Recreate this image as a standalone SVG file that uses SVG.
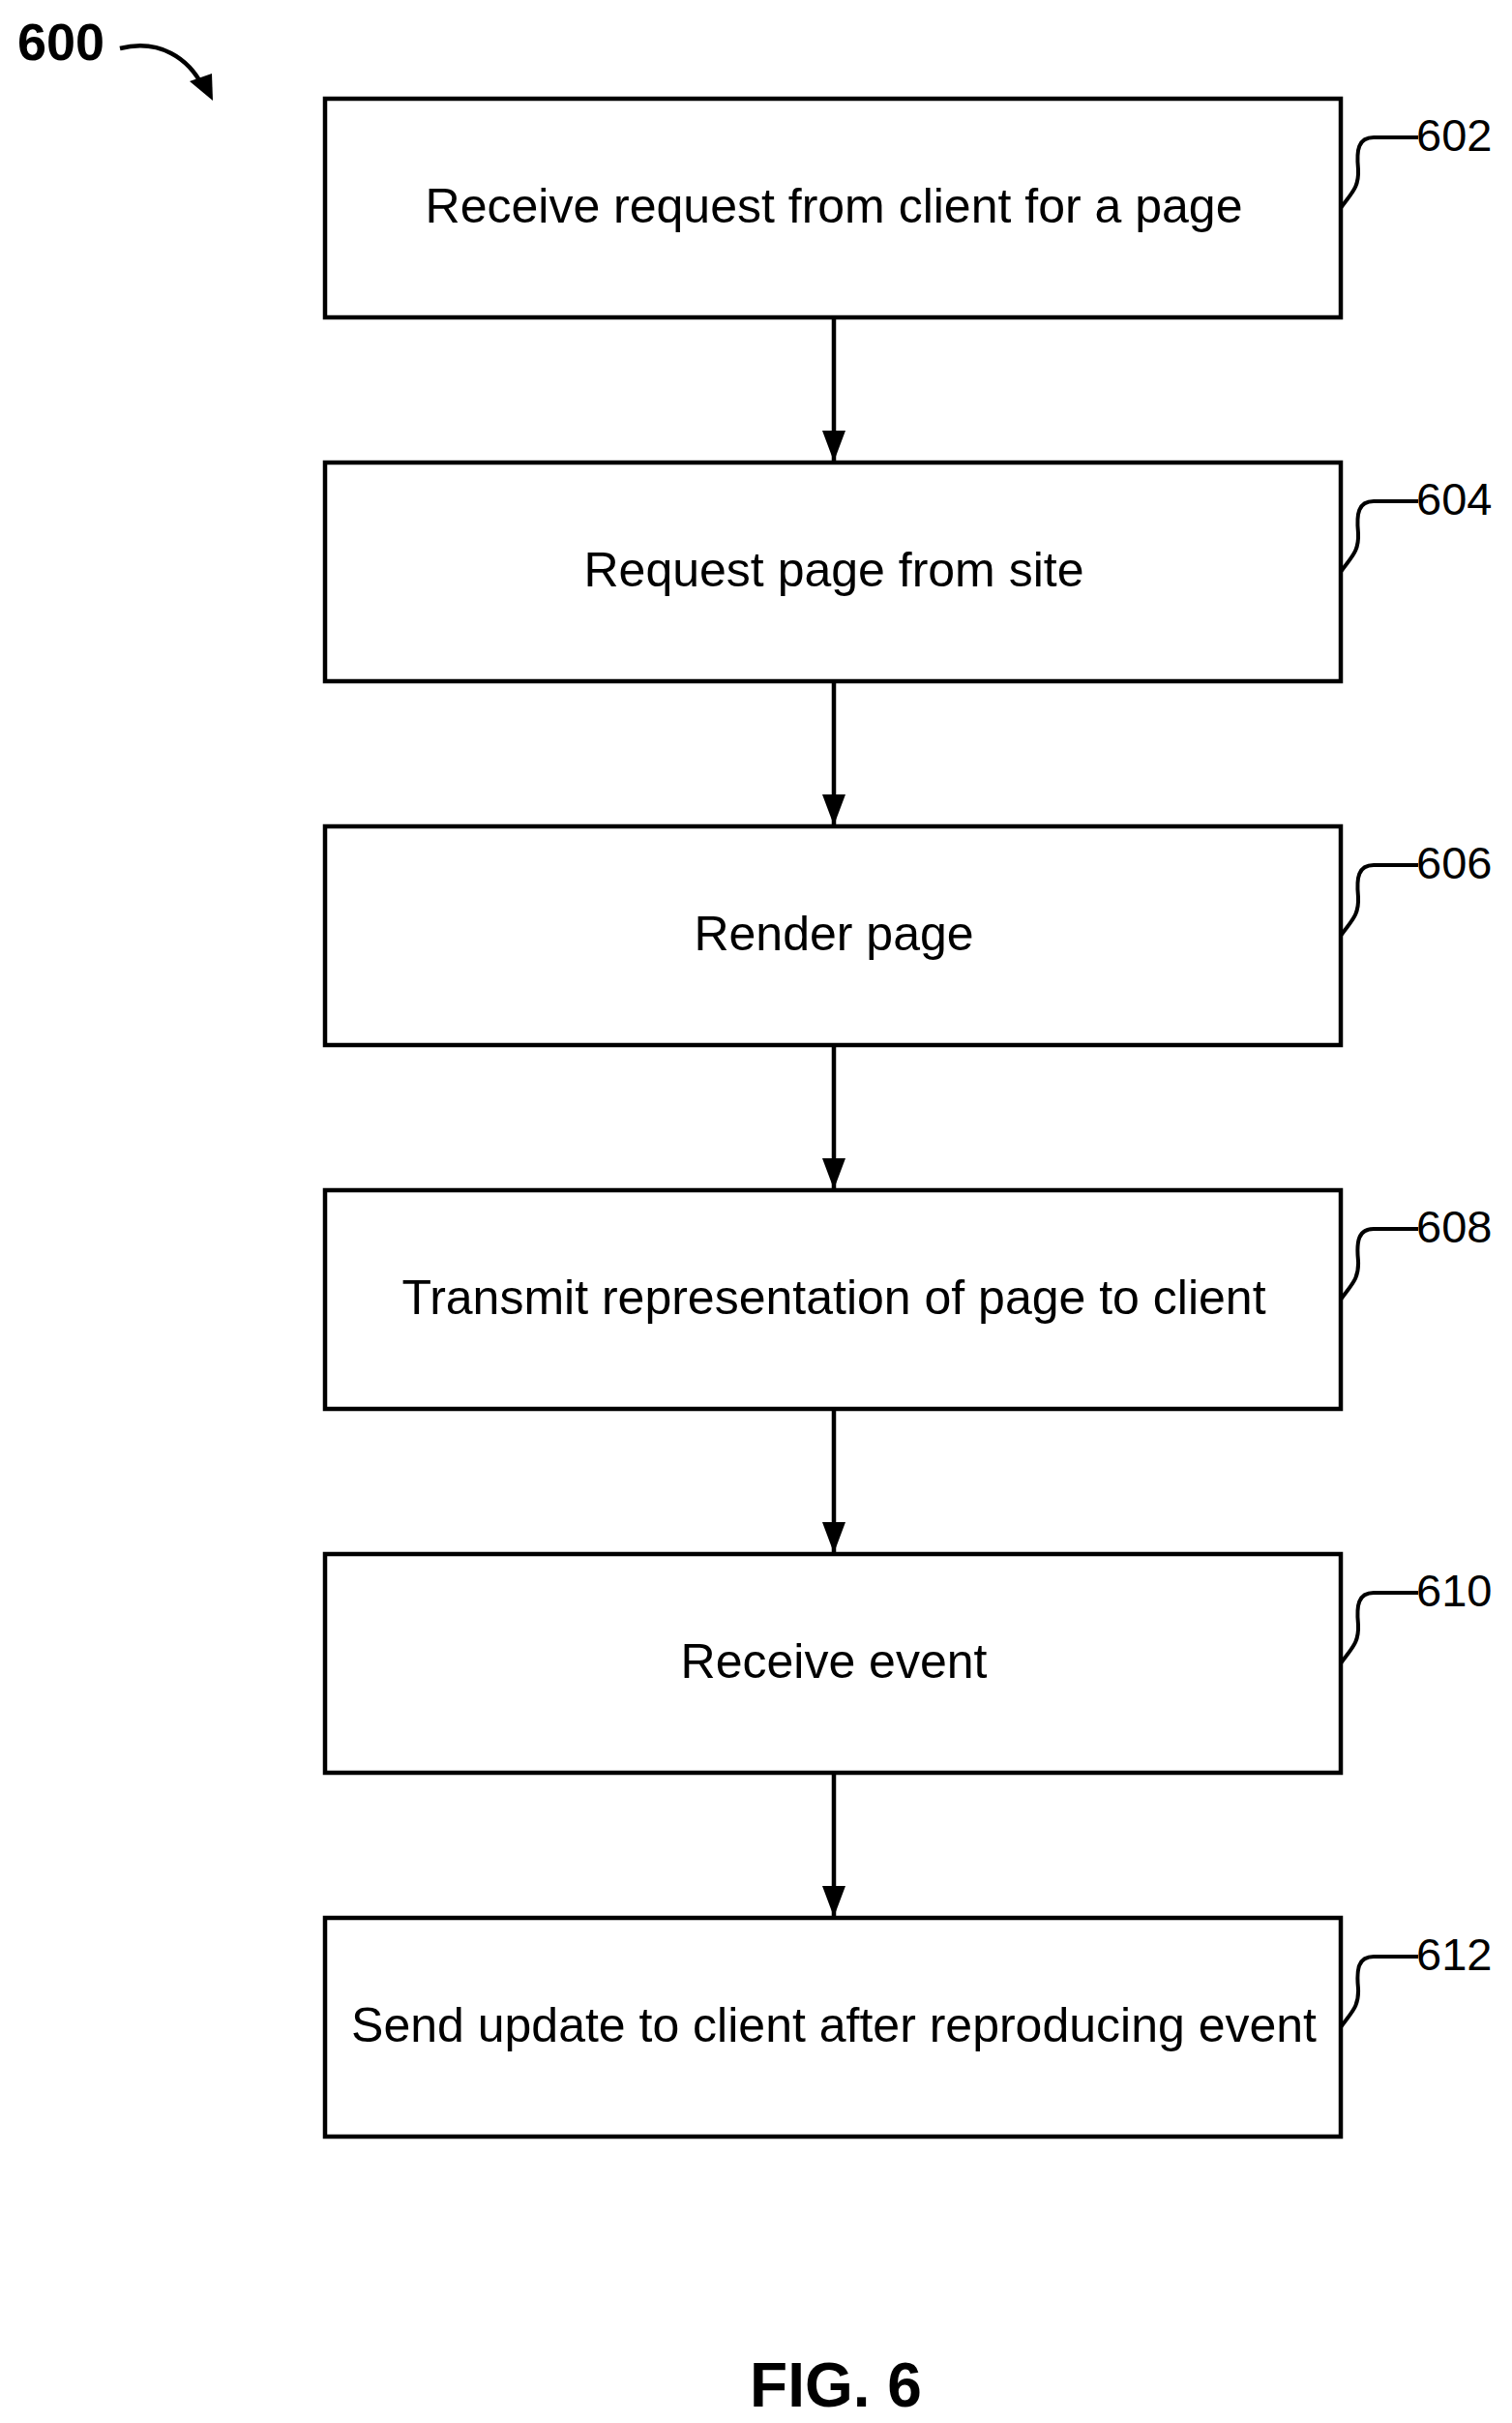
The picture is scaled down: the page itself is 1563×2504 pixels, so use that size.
<svg xmlns="http://www.w3.org/2000/svg" width="1563" height="2504" viewBox="0 0 1563 2504">
<style>
.b{fill:#fff;stroke:#000;stroke-width:4.5}
.t{font-family:"Liberation Sans",Arial,sans-serif;font-size:50px;text-anchor:middle}
.l{font-family:"Liberation Sans",Arial,sans-serif;font-size:47px}
.s{fill:none;stroke:#000;stroke-width:4}
.c{stroke:#000;stroke-width:4.5;marker-end:url(#a)}
</style>
<defs>
<marker id="a" markerWidth="32" markerHeight="24" refX="32" refY="12" orient="auto" markerUnits="userSpaceOnUse" viewBox="0 0 32 24"><path d="M0,0L32,12L0,24z"/></marker>
</defs>
<rect width="1563" height="2504" fill="#fff"/>
<g id="title">
<text x="18" y="62" style="font-family:'Liberation Sans',Arial,sans-serif;font-size:54px;font-weight:bold">600</text>
<path d="M124,50 C165,40 195,60 210,90" fill="none" stroke="#000" stroke-width="4.5"/>
<path d="M196,84 L220,104 L219,76 z"/>
</g>
<g id="connectors">
<line class="c" x1="862" y1="328" x2="862" y2="477"/>
<line class="c" x1="862" y1="704" x2="862" y2="853"/>
<line class="c" x1="862" y1="1080" x2="862" y2="1229"/>
<line class="c" x1="862" y1="1456" x2="862" y2="1605"/>
<line class="c" x1="862" y1="1832" x2="862" y2="1981"/>
</g>
<g id="n602"><rect class="b" x="336" y="102" width="1050" height="226"/><text class="t" x="862" y="230">Receive request from client for a page</text><path class="s" d="M1386,215 C1396,200 1405,195 1404,175 C1402,155 1404,142 1420,142 L1466,142"/><text class="l" x="1464" y="156">602</text></g>
<g id="n604"><rect class="b" x="336" y="478" width="1050" height="226"/><text class="t" x="862" y="606">Request page from site</text><path class="s" d="M1386,591 C1396,576 1405,571 1404,551 C1402,531 1404,518 1420,518 L1466,518"/><text class="l" x="1464" y="532">604</text></g>
<g id="n606"><rect class="b" x="336" y="854" width="1050" height="226"/><text class="t" x="862" y="982">Render page</text><path class="s" d="M1386,967 C1396,952 1405,947 1404,927 C1402,907 1404,894 1420,894 L1466,894"/><text class="l" x="1464" y="908">606</text></g>
<g id="n608"><rect class="b" x="336" y="1230" width="1050" height="226"/><text class="t" x="862" y="1358">Transmit representation of page to client</text><path class="s" d="M1386,1343 C1396,1328 1405,1323 1404,1303 C1402,1283 1404,1270 1420,1270 L1466,1270"/><text class="l" x="1464" y="1284">608</text></g>
<g id="n610"><rect class="b" x="336" y="1606" width="1050" height="226"/><text class="t" x="862" y="1734">Receive event</text><path class="s" d="M1386,1719 C1396,1704 1405,1699 1404,1679 C1402,1659 1404,1646 1420,1646 L1466,1646"/><text class="l" x="1464" y="1660">610</text></g>
<g id="n612"><rect class="b" x="336" y="1982" width="1050" height="226"/><text class="t" x="862" y="2110">Send update to client after reproducing event</text><path class="s" d="M1386,2095 C1396,2080 1405,2075 1404,2055 C1402,2035 1404,2022 1420,2022 L1466,2022"/><text class="l" x="1464" y="2036">612</text></g>
<text x="864" y="2487" style="font-family:'Liberation Sans',Arial,sans-serif;font-size:64px;font-weight:bold;text-anchor:middle">FIG. 6</text>
</svg>
